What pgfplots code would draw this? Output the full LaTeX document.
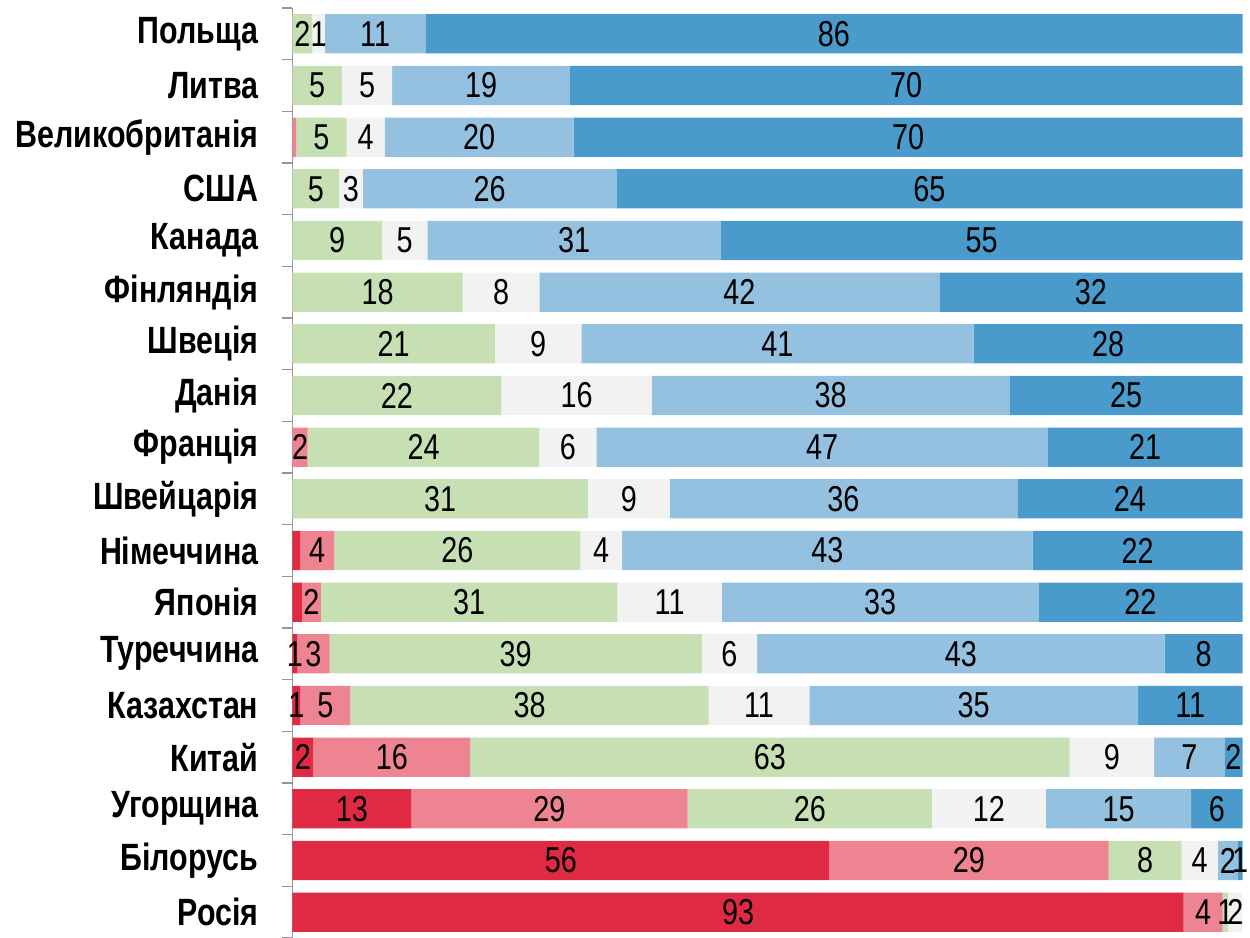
\documentclass[border=0pt]{standalone}
\usepackage{pgfplots}
\pgfplotsset{compat=1.18}
\usepackage{fontspec}
\setmainfont[FakeStretch=0.8]{Liberation Sans}
\definecolor{cRed}{RGB}{224,41,66}
\definecolor{cPink}{RGB}{238,131,145}
\definecolor{cGreen}{RGB}{198,224,180}
\definecolor{cGray}{RGB}{242,242,242}
\definecolor{cLBlue}{RGB}{148,193,224}
\definecolor{cDBlue}{RGB}{74,155,203}
\definecolor{cAxis}{RGB}{150,150,150}
\begin{document}
\begin{tikzpicture}
\begin{axis}[
  name=ax,
  at={(0,0)}, anchor=south west,
  scale only axis,
  width=950bp, height=930bp,
  xbar stacked,
  bar width=0.76,
  xmin=0, xmax=100,
  ymin=-0.5, ymax=17.5,
  y dir=reverse,
  axis x line=none,
  axis y line*=left,
  xtick=\empty,
  ytick={0,...,17},
  yticklabels={Польща,Литва,Великобританія,США,Канада,Фінляндія,Швеція,Данія,Франція,Швейцарія,Німеччина,Японія,Туреччина,Казахстан,Китай,Угорщина,Білорусь,Росія},
  major tick length=0pt,
  minor ytick={-0.5,0.5,...,17.5},
  minor tick length=11bp,
  tick align=outside,
  minor tick style={draw=cAxis, line width=1.5bp},
  y axis line style={draw=cAxis, line width=1.5bp},
  yticklabel style={font=\bfseries\fontsize{38bp}{40bp}\selectfont, inner sep=0pt, xshift=-34bp, anchor=east},
  clip=false,
  point meta=explicit symbolic,
  nodes near coords,
  every node near coord/.append style={anchor=center, font=\fontsize{36bp}{38bp}\selectfont, text=black, inner sep=0pt},
]
% dark red
\addplot[fill=cRed, draw=none] coordinates {
(0,0) [] (0,1) [] (0,2) [] (0,3) [] (0,4) [] (0,5) [] (0,6) [] (0,7) [] (0,8) []
(0,9) [] (0.8,10) [] (1.0,11) [] (0.5,12) [1] (0.8,13) [1] (2.2,14) [2] (12.5,15) [13] (56.5,16) [56] (93.8,17) [93]};
% pink
\addplot[fill=cPink, draw=none] coordinates {
(0,0) [] (0,1) [] (0.4,2) [] (0,3) [] (0,4) [] (0,5) [] (0,6) [] (0,7) [] (1.6,8) [2]
(0,9) [] (3.6,10) [4] (2.0,11) [2] (3.4,12) [3] (5.3,13) [5] (16.5,14) [16] (29.1,15) [29] (29.4,16) [29] (4.1,17) [4]};
% green
\addplot[fill=cGreen, draw=none] coordinates {
(2.1,0) [2] (5.2,1) [5] (5.3,2) [5] (4.9,3) [5] (9.4,4) [9] (17.9,5) [18] (21.3,6) [21] (22.0,7) [22] (24.4,8) [24]
(31.1,9) [31] (25.9,10) [26] (31.2,11) [31] (39.2,12) [39] (37.7,13) [38] (63.1,14) [63] (25.7,15) [26] (7.7,16) [8] (0.6,17) [1]};
% gray
\addplot[fill=cGray, draw=none] coordinates {
(1.3,0) [1] (5.3,1) [5] (4.0,2) [4] (2.5,3) [3] (4.8,4) [5] (8.1,5) [8] (9.1,6) [9] (15.8,7) [16] (6.0,8) [6]
(8.6,9) [9] (4.4,10) [4] (11.0,11) [11] (5.8,12) [6] (10.6,13) [11] (8.9,14) [9] (12.0,15) [12] (3.8,16) [4] (1.5,17) [2]};
% light blue
\addplot[fill=cLBlue, draw=none] coordinates {
(10.6,0) [11] (18.7,1) [19] (19.9,2) [20] (26.7,3) [26] (30.9,4) [31] (42.1,5) [42] (41.3,6) [41] (37.7,7) [38] (47.5,8) [47]
(36.6,9) [36] (43.2,10) [43] (33.3,11) [33] (42.9,12) [43] (34.6,13) [35] (7.4,14) [7] (15.3,15) [15] (2.1,16) [2] (0,17) []};
% dark blue
\addplot[fill=cDBlue, draw=none] coordinates {
(86.0,0) [86] (70.8,1) [70] (70.4,2) [70] (65.9,3) [65] (54.9,4) [55] (31.9,5) [32] (28.3,6) [28] (24.5,7) [25] (20.5,8) [21]
(23.7,9) [24] (22.1,10) [22] (21.5,11) [22] (8.2,12) [8] (11.0,13) [11] (1.9,14) [2] (5.4,15) [6] (0.5,16) [1] (0,17) []};
\end{axis}
\pgfresetboundingbox
\path (-292.5bp,0bp) rectangle (957.5bp,938bp);
\end{tikzpicture}
\end{document}
